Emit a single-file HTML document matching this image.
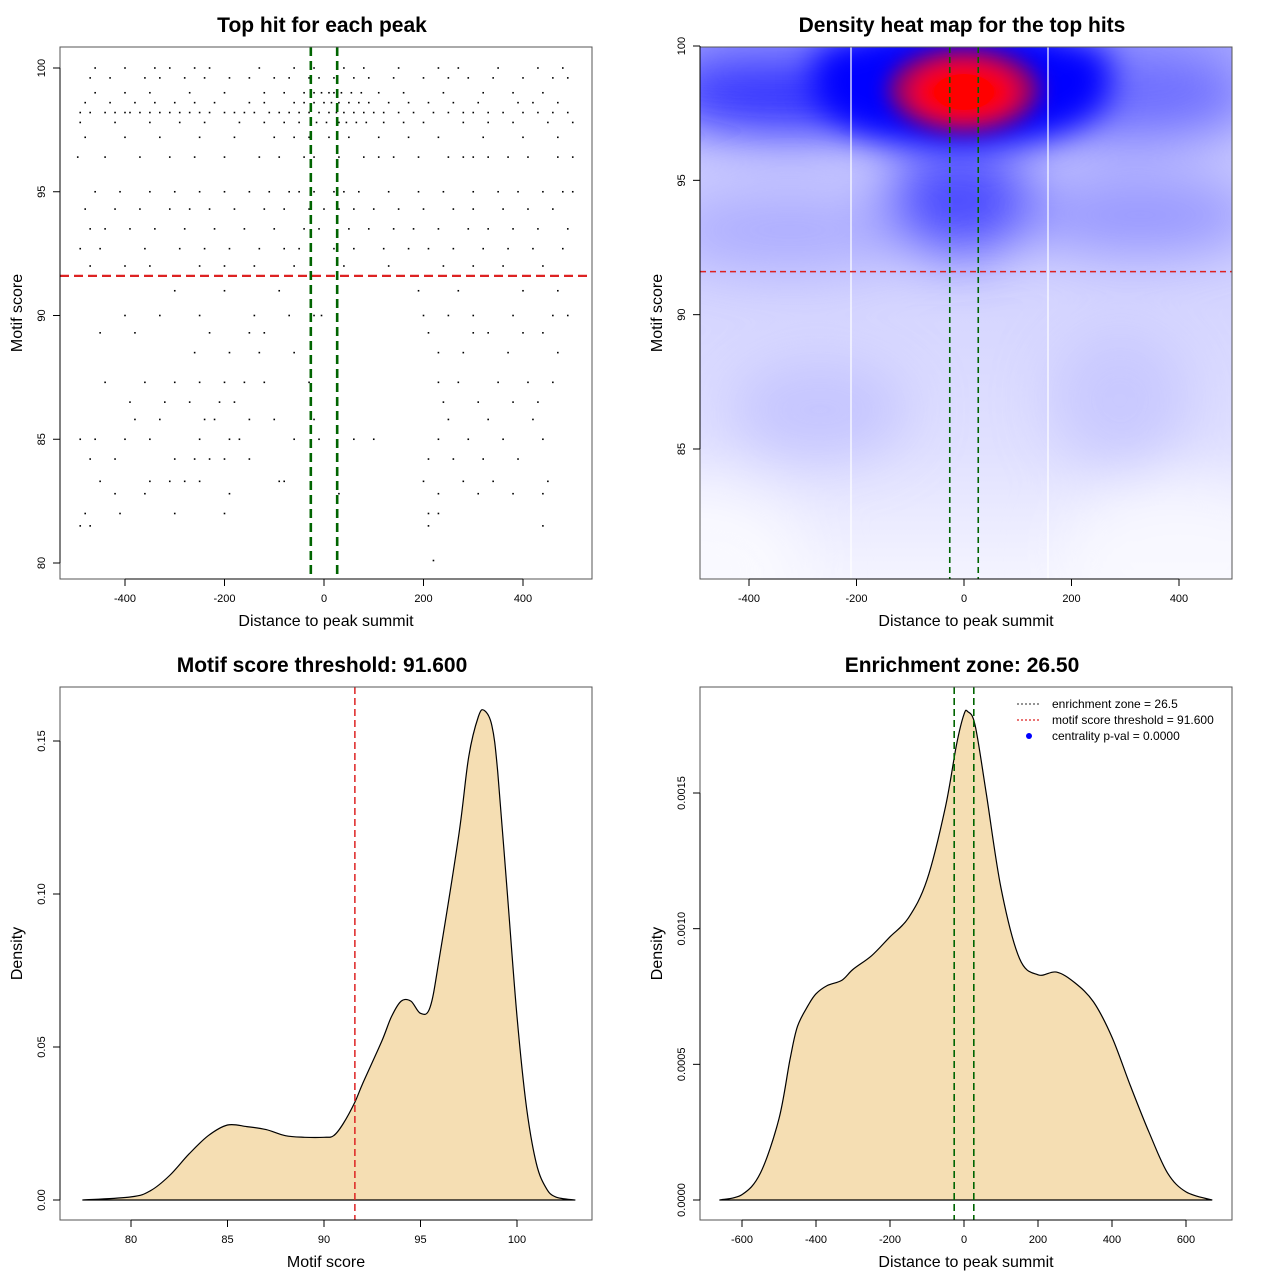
<!DOCTYPE html>
<html><head><meta charset="utf-8"><style>
body{margin:0;background:#fff}
svg text{font-family:"Liberation Sans",Arial,sans-serif;fill:#000}
.t{font-size:11px}
.title{font-size:21px;font-weight:bold}
.lab{font-size:16px}
</style></head><body>
<svg id="chart" xmlns="http://www.w3.org/2000/svg" width="1280" height="1280" viewBox="0 0 1280 1280">
<defs>
<filter id="blur" x="-50%" y="-50%" width="200%" height="200%"><feGaussianBlur stdDeviation="28"/></filter>
<filter id="blur2" x="-50%" y="-50%" width="200%" height="200%"><feGaussianBlur stdDeviation="16"/></filter>
<filter id="blur3" x="-50%" y="-50%" width="200%" height="200%"><feGaussianBlur stdDeviation="10"/></filter>
<clipPath id="hmclip"><rect x="700" y="47" width="532" height="532"/></clipPath>
<linearGradient id="hmbase" x1="0" y1="0" x2="0" y2="1">
<stop offset="0" stop-color="#c8c8ff"/><stop offset="0.45" stop-color="#d4d4ff"/><stop offset="0.75" stop-color="#e0e0ff"/><stop offset="1" stop-color="#f4f4ff"/></linearGradient>
</defs>
<rect width="1280" height="1280" fill="#fff"/>
</svg>
<script>
// ---------- data ----------
const rowScores=[100,99.6,99,98.6,98.2,97.8,97.2,96.4,95,94.3,93.5,92.7,92,91,90,89.3,88.5,87.3,86.5,85.8,85,84.2,83.3,82.8,82,81.5,80.1];
const rowXs=[
[-460,-400,-340,-310,-260,-230,-130,-60,-20,40,80,150,230,270,350,430,480],
[-470,-430,-360,-330,-280,-240,-190,-150,-100,-70,-30,-10,20,60,90,140,200,250,290,340,400,460,490],
[-460,-400,-350,-270,-200,-120,-80,-40,-20,-5,10,20,35,55,75,110,160,240,320,380,440],
[-480,-430,-380,-340,-300,-260,-220,-150,-120,-60,-40,-20,0,15,30,50,70,90,130,170,210,260,310,390,420,470],
[-490,-470,-440,-420,-400,-390,-370,-350,-330,-310,-290,-270,-250,-230,-200,-180,-160,-140,-110,-90,-70,-50,-30,-10,10,25,40,60,80,100,120,150,180,220,250,280,300,330,360,400,430,460,490],
[-490,-420,-350,-290,-240,-170,-120,-80,-50,-15,5,30,45,65,85,120,160,200,280,330,380,450,500],
[-480,-400,-330,-250,-180,-100,-60,-30,10,50,110,170,230,320,400,470],
[-495,-440,-370,-310,-260,-200,-130,-90,-40,-20,30,80,110,140,190,250,280,300,330,370,410,470,500],
[-460,-410,-350,-300,-250,-200,-150,-110,-70,-50,-20,20,40,70,130,190,240,300,350,390,440,480,500],
[-480,-420,-370,-310,-270,-230,-180,-120,-80,-30,0,30,60,100,150,200,260,300,360,410,460],
[-470,-440,-390,-340,-280,-220,-160,-100,-40,-10,50,90,140,180,230,290,330,380,430,490],
[-490,-450,-360,-290,-240,-190,-130,-80,-50,20,60,120,170,210,260,320,370,420,480],
[-470,-400,-350,-250,-200,-140,-60,40,130,240,300,360,440],
[-300,-200,-90,190,270,400,470],
[-400,-330,-250,-140,-70,-20,-5,200,250,300,380,460,490],
[-450,-380,-230,-150,-120,210,300,330,400,440],
[-260,-190,-130,-60,230,280,370,470],
[-440,-360,-300,-250,-200,-160,-120,-30,230,270,350,410,460],
[-390,-320,-270,-210,-180,240,310,380,430],
[-380,-330,-240,-220,-150,-100,-20,250,330,420],
[-490,-460,-400,-350,-250,-190,-170,-60,-10,60,100,230,290,360,440],
[-470,-420,-300,-260,-230,-200,-150,210,260,320,390],
[-450,-350,-310,-280,-250,-90,-80,200,280,340,450],
[-420,-360,-190,30,230,310,380,440],
[-480,-410,-300,-200,210,230],
[-490,-470,210,440],
[220]];
const scoreDensX=[77.5,80,81,82,83,84,85,86,87,88,89,90,90.5,91,91.6,92,93,93.5,94,94.5,95,95.5,96,97,97.5,98,98.3,98.7,99,99.5,100,100.5,101,101.5,102,103];
const scoreDensY=[0,0.001,0.003,0.008,0.015,0.021,0.0245,0.024,0.023,0.021,0.0205,0.0205,0.021,0.025,0.032,0.038,0.052,0.060,0.065,0.065,0.061,0.063,0.080,0.12,0.145,0.158,0.160,0.155,0.14,0.10,0.06,0.03,0.012,0.004,0.001,0];
const distDensX=[-660,-600,-550,-500,-470,-450,-420,-400,-370,-330,-300,-250,-200,-150,-100,-50,-20,0,10,30,60,100,150,200,250,300,350,400,450,500,550,600,670];
const distDensY=[0,0.00002,0.0001,0.0003,0.00052,0.00064,0.00072,0.00076,0.00079,0.00081,0.00085,0.0009,0.00097,0.00104,0.00118,0.00145,0.00168,0.00179,0.0018,0.00175,0.0015,0.00115,0.00089,0.00083,0.00084,0.0008,0.00073,0.0006,0.00042,0.00025,0.0001,0.00003,0];
const threshold=91.6;
const zone=26.5;

const NS="http://www.w3.org/2000/svg";
const svg=document.getElementById('chart');
function mk(tag,attrs,parent){const e=document.createElementNS(NS,tag);for(const k in attrs)e.setAttribute(k,attrs[k]);(parent||svg).appendChild(e);return e;}
function lin(d0,d1,p0,p1){return v=>p0+(v-d0)*(p1-p0)/(d1-d0);}
function smooth(pts){let d='M'+pts[0][0].toFixed(1)+','+pts[0][1].toFixed(1);
  for(let i=0;i<pts.length-1;i++){const p0=pts[Math.max(0,i-1)],p1=pts[i],p2=pts[i+1],p3=pts[Math.min(pts.length-1,i+2)];
    const c1x=p1[0]+(p2[0]-p0[0])/6,c1y=p1[1]+(p2[1]-p0[1])/6,c2x=p2[0]-(p3[0]-p1[0])/6,c2y=p2[1]-(p3[1]-p1[1])/6;
    d+=` C${c1x.toFixed(1)},${c1y.toFixed(1)} ${c2x.toFixed(1)},${c2y.toFixed(1)} ${p2[0].toFixed(1)},${p2[1].toFixed(1)}`;}
  return d;}

function axes(box,xs,ys,xt,yt,yl,xl,title,name){
  const g=mk('g',{});
  
  
  const t=mk('text',{x:box.x+box.w/2-4,y:box.y-15,'text-anchor':'middle',class:'title'},g);t.textContent=title;
  
  
  const r=mk('rect',{x:box.x,y:box.y,width:box.w,height:box.h,fill:'none',stroke:'#555','stroke-width':1},g);
  
  
  const yb=box.y+box.h;
  mk('line',{x1:xs(xt[0]),x2:xs(xt[xt.length-1]),y1:yb,y2:yb,stroke:'#000'},g);
  xt.forEach(v=>{const x=xs(v);mk('line',{x1:x,x2:x,y1:yb,y2:yb+7,stroke:'#000'},g);
    const tx=mk('text',{x:x,y:yb+23,'text-anchor':'middle',class:'t'},g);tx.textContent=String(v);
    
    });
  mk('line',{x1:box.x,x2:box.x,y1:ys(yt[0].v),y2:ys(yt[yt.length-1].v),stroke:'#000'},g);
  yt.forEach(o=>{const y=ys(o.v);mk('line',{x1:box.x,x2:box.x-7,y1:y,y2:y,stroke:'#000'},g);
    const tx=mk('text',{x:box.x-15,y:y,'text-anchor':'middle',class:'t',transform:`rotate(-90 ${box.x-15} ${y})`},g);tx.textContent=o.l;
    
    });
  const xa=mk('text',{x:box.x+box.w/2,y:yb+47,'text-anchor':'middle',class:'lab'},g);xa.textContent=xl;
  
  
  const ya=mk('text',{x:22,y:box.y+box.h/2,'text-anchor':'middle',class:'lab',transform:`rotate(-90 22 ${box.y+box.h/2})`},g);ya.textContent=yl;
  
  
  if(box.x>600){ya.setAttribute('x',662);ya.setAttribute('transform',`rotate(-90 662 ${box.y+box.h/2})`);}
}

// ---------- panel 1 scatter ----------
{const box={x:60,y:47,w:532,h:532};
const xs=lin(0,400,324,523), ys=lin(100,80,68,563);
const g=mk('g',{});


rowScores.forEach((s,i)=>rowXs[i].forEach(x=>{const p=mk('rect',{x:xs(x)-0.8,y:ys(s)-0.8,width:1.6,height:1.6,fill:'#000'},g);
  
  }));
const rl=mk('line',{x1:box.x,x2:box.x+box.w,y1:ys(threshold),y2:ys(threshold),stroke:'#dd2222','stroke-width':2.2,'stroke-dasharray':'9,5'});


[-zone,zone].forEach(z=>{const l=mk('line',{x1:xs(z),x2:xs(z),y1:box.y,y2:box.y+box.h,stroke:'#006400','stroke-width':2.6,'stroke-dasharray':'9,5'});
  
  });
axes(box,xs,ys,[-400,-200,0,200,400],[80,85,90,95,100].map(v=>({v,l:String(v)})),'Motif score','Distance to peak summit','Top hit for each peak','scatter');}

// ---------- panel 2 heatmap ----------
{const box={x:700,y:47,w:532,h:532};
const xs=lin(0,400,964,1179), ys=lin(100,85,46,449);
const g=mk('g',{'clip-path':'url(#hmclip)'});


mk('rect',{x:700,y:47,width:532,height:532,fill:'url(#hmbase)'},g);
const b=mk('g',{filter:'url(#blur)'},g);
mk('ellipse',{cx:1180,cy:560,rx:120,ry:80,fill:'#fafaff',opacity:0.8},b);
mk('ellipse',{cx:690,cy:570,rx:120,ry:90,fill:'#fafaff',opacity:0.9},b);
mk('ellipse',{cx:820,cy:410,rx:90,ry:50,fill:'#babaff',opacity:0.7},b);
mk('ellipse',{cx:1120,cy:400,rx:70,ry:70,fill:'#bcbcff',opacity:0.6},b);
mk('ellipse',{cx:790,cy:230,rx:130,ry:40,fill:'#a8a8ff',opacity:0.9},b);
mk('ellipse',{cx:1140,cy:215,rx:120,ry:40,fill:'#9090ff',opacity:0.9},b);
mk('ellipse',{cx:960,cy:200,rx:75,ry:55,fill:'#4848ff',opacity:1},b);
mk('ellipse',{cx:790,cy:90,rx:140,ry:45,fill:'#2a2aff',opacity:1},b);
mk('ellipse',{cx:1130,cy:95,rx:130,ry:45,fill:'#6a6aff',opacity:1},b);
mk('rect',{x:650,y:0,width:650,height:50,fill:'#9898ff',opacity:0.9},b);
const b2=mk('g',{filter:'url(#blur2)'},g);
mk('ellipse',{cx:962,cy:85,rx:150,ry:65,fill:'#0000ff'},b2);
mk('ellipse',{cx:962,cy:60,rx:150,ry:30,fill:'#0000ff'},b2);
const b3=mk('g',{filter:'url(#blur3)'},g);
mk('ellipse',{cx:964,cy:90,rx:75,ry:42,fill:'#a00060'},b3);
mk('ellipse',{cx:964,cy:92,rx:52,ry:30,fill:'#ff0000'},b3);
mk('ellipse',{cx:964,cy:92,rx:30,ry:18,fill:'#ff0000'},g);
[851,1048].forEach(x=>mk('line',{x1:x,x2:x,y1:47,y2:579,stroke:'#fff','stroke-width':1.2},g));
const rl=mk('line',{x1:box.x,x2:box.x+box.w,y1:ys(threshold),y2:ys(threshold),stroke:'#dd2222','stroke-width':1.5,'stroke-dasharray':'6,4'});


[-zone,zone].forEach(z=>{const l=mk('line',{x1:xs(z),x2:xs(z),y1:box.y,y2:box.y+box.h,stroke:'#006400','stroke-width':1.6,'stroke-dasharray':'6,4'});
  
  });
axes(box,xs,ys,[-400,-200,0,200,400],[85,90,95,100].map(v=>({v,l:String(v)})),'Motif score','Distance to peak summit','Density heat map for the top hits','heatmap');}

// ---------- panel 3 score density ----------
{const box={x:60,y:687,w:532,h:533};
const xs=lin(80,100,131,517), ys=lin(0,0.15,1200,741);
const pts=scoreDensX.map((x,i)=>[xs(x),ys(scoreDensY[i])]);
const p=mk('path',{d:smooth(pts)+' Z',fill:'#f5deb3',stroke:'#000','stroke-width':1.2,'stroke-linejoin':'round'});


const rl=mk('line',{x1:xs(threshold),x2:xs(threshold),y1:box.y,y2:box.y+box.h,stroke:'#dd2222','stroke-width':1.5,'stroke-dasharray':'7,4'});


axes(box,xs,ys,[80,85,90,95,100],[0,0.05,0.10,0.15].map(v=>({v,l:v.toFixed(2)})),'Density','Motif score','Motif score threshold: 91.600','score-density');}

// ---------- panel 4 distance density ----------
{const box={x:700,y:687,w:532,h:533};
const xs=lin(0,400,964,1112), ys=lin(0,0.0015,1200,793);
const pts=distDensX.map((x,i)=>[xs(x),ys(distDensY[i])]);
const p=mk('path',{d:smooth(pts)+' Z',fill:'#f5deb3',stroke:'#000','stroke-width':1.2,'stroke-linejoin':'round'});


[-zone,zone].forEach(z=>{const l=mk('line',{x1:xs(z),x2:xs(z),y1:box.y,y2:box.y+box.h,stroke:'#006400','stroke-width':1.6,'stroke-dasharray':'7,4'});
  
  });
axes(box,xs,ys,[-600,-400,-200,0,200,400,600],[0,0.0005,0.0010,0.0015].map(v=>({v,l:v.toFixed(4)})),'Density','Distance to peak summit','Enrichment zone: 26.50','distance-density');
const lg=mk('g',{});


const items=[['#555','enrichment zone = 26.5','line'],['#dd2222','motif score threshold = 91.600','line'],['#0000ff','centrality p-val = 0.0000','dot']];
items.forEach((it,i)=>{const y=704+i*16;
  if(it[2]==='line')mk('line',{x1:1017,x2:1041,y1:y,y2:y,stroke:it[0],'stroke-width':1.2,'stroke-dasharray':'2,2'},lg);
  else mk('circle',{cx:1029,cy:y,r:3,fill:it[0]},lg);
  const t=mk('text',{x:1052,y:y+4,'font-size':'12px'},lg);t.textContent=it[1];
  
  });}
</script>
</body></html>
